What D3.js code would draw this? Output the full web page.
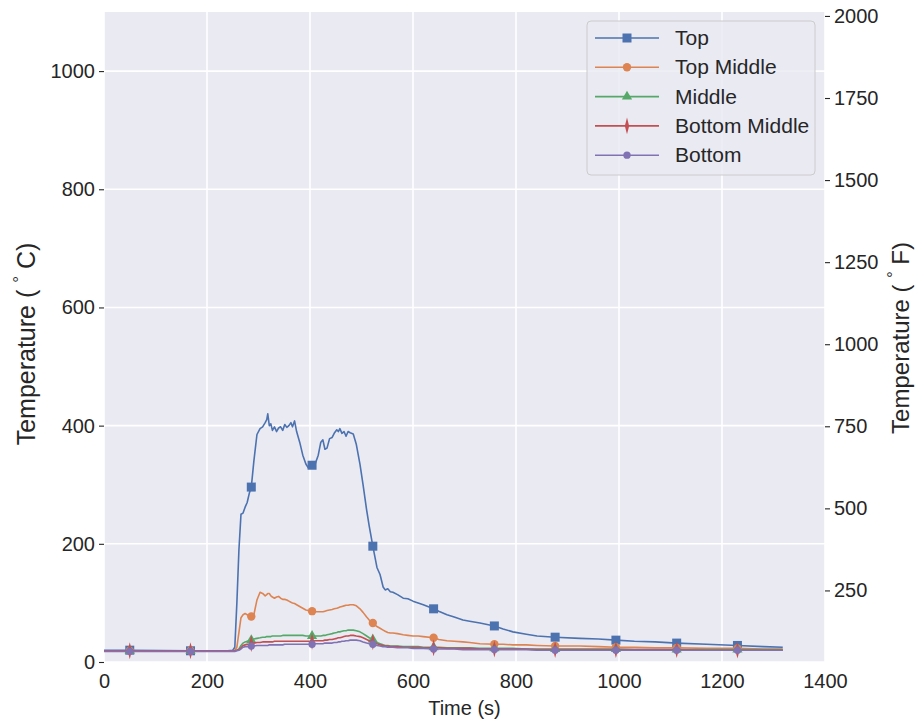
<!DOCTYPE html>
<html>
<head>
<meta charset="utf-8">
<script src="https://cdn.jsdelivr.net/npm/d3@7"></script>
<style>
  body { margin: 0; background: #fff; }
  text { font-family: "Liberation Sans", Arial, sans-serif; fill: #262626; }
</style>
</head>
<body>
<div class="canvas"></div>
<script>
// time in seconds, shared by every sensor
const time = [0, 50, 168, 240, 250, 254, 258, 262, 266, 270, 274, 278, 282, 286, 291, 297, 303, 308, 313, 316, 318, 321, 324, 327, 331, 335, 339, 343, 347, 351, 355, 359, 363, 366, 370, 374, 380, 386, 392, 397, 404, 410, 416, 421, 425, 429, 433, 438, 443, 447, 452, 455, 458, 462, 466, 470, 474, 478, 484, 490, 497, 503, 510, 515, 522, 530, 536, 542, 546, 551, 556, 561, 570, 581, 590, 600, 610, 620, 640, 650, 666, 680, 697, 710, 730, 758, 775, 794, 820, 841, 876, 924, 960, 994, 1030, 1070, 1112, 1170, 1230, 1280, 1318];

const top_ = [20, 20, 19, 19, 20, 25, 100, 190, 250, 252, 262, 270, 285, 296, 340, 385, 395, 398, 405, 410, 420, 400, 403, 392, 398, 390, 396, 398, 392, 402, 397, 400, 405, 398, 408, 390, 372, 350, 335, 328, 333, 335, 350, 372, 376, 360, 362, 378, 380, 387, 393, 390, 395, 387, 390, 382, 390, 388, 386, 368, 335, 300, 257, 230, 196, 160, 148, 127, 122, 124, 119, 118, 114, 108, 107, 103, 100, 97, 90, 86, 80, 76, 71, 69, 66, 61, 56, 51, 47, 44, 42, 40, 39, 37, 35, 34, 32, 30, 28, 26, 25];
const topMiddle = [19, 19, 19, 19, 19, 20, 25, 50, 75, 80, 82, 80, 78, 77, 80, 105, 118, 116, 112, 114, 116, 116, 112, 110, 108, 110, 111, 108, 106, 106, 105, 103, 101, 100, 99, 97, 94, 91, 88, 87, 86, 85, 85, 85, 85, 86, 87, 88, 89, 90, 91, 92, 93, 94, 95, 96, 96, 97, 97, 95, 90, 84, 76, 71, 66, 60, 57, 54, 52, 50, 49, 49, 48, 46, 45, 44, 44, 43, 41, 38, 36, 35, 34, 33, 31, 30, 30, 29, 29, 28, 27, 27, 26, 25, 25, 24, 24, 23, 23, 22, 22];
const middle = [19, 19, 19, 19, 19, 19, 20, 22, 28, 32, 34, 35, 36, 37, 39, 40, 41, 42, 42, 43, 43, 43, 43, 44, 44, 44, 44, 44, 45, 45, 45, 45, 45, 45, 45, 45, 45, 45, 44, 44, 44, 44, 44, 44, 45, 45, 46, 47, 48, 49, 50, 51, 51, 52, 53, 53, 54, 54, 54, 53, 51, 48, 44, 41, 38, 33, 31, 29, 28, 28, 27, 27, 27, 26, 26, 26, 26, 25, 25, 25, 24, 24, 24, 24, 23, 23, 23, 23, 22, 22, 22, 22, 22, 22, 21, 21, 21, 21, 21, 21, 21];
const bottomMiddle = [19, 19, 19, 19, 19, 19, 20, 21, 24, 28, 29, 30, 30, 31, 32, 33, 33, 34, 34, 34, 34, 34, 34, 34, 35, 35, 35, 35, 35, 35, 35, 35, 35, 35, 35, 35, 35, 35, 35, 35, 35, 36, 36, 36, 36, 37, 37, 38, 38, 39, 40, 41, 41, 42, 43, 44, 44, 45, 45, 44, 43, 41, 38, 36, 34, 31, 29, 28, 27, 27, 26, 26, 26, 25, 25, 25, 25, 24, 24, 24, 23, 23, 23, 23, 22, 22, 22, 22, 22, 21, 21, 21, 21, 21, 21, 21, 21, 20, 20, 20, 20];
const bottom = [18, 18, 18, 18, 18, 18, 19, 20, 22, 25, 26, 26, 27, 27, 27, 28, 28, 28, 28, 28, 28, 29, 29, 29, 29, 29, 29, 29, 29, 30, 30, 30, 30, 30, 30, 30, 30, 30, 30, 30, 30, 31, 31, 31, 31, 32, 32, 32, 32, 33, 33, 34, 34, 35, 35, 36, 36, 37, 37, 37, 36, 34, 32, 31, 30, 28, 27, 26, 26, 25, 25, 25, 24, 24, 24, 23, 23, 23, 22, 22, 22, 22, 21, 21, 21, 21, 21, 21, 21, 20, 20, 20, 20, 20, 20, 20, 20, 20, 20, 20, 20];

// times where markers sit (every ~118 s)
const markerTimes = [50, 168, 286, 404, 522, 640, 758, 876, 994, 1112, 1230];

const seriesNames = ["Top", "Top Middle", "Middle", "Bottom Middle", "Bottom"];
const seriesValues = [top_, topMiddle, middle, bottomMiddle, bottom];
const colors = ["#4C72B0", "#DD8452", "#55A868", "#C44E52", "#8172B3"];

const xTicks = [0, 200, 400, 600, 800, 1000, 1200, 1400];
const yTicksC = [0, 200, 400, 600, 800, 1000];
const yTicksF = [250, 500, 750, 1000, 1250, 1500, 1750, 2000];

const W = 916, H = 722;
const margin = {top: 12, right: 91, bottom: 60, left: 104};
const gw = W - margin.left - margin.right;
const gh = H - margin.top - margin.bottom;

const svg = d3.select(".canvas").append("svg")
  .attr("width", W)
  .attr("height", H);

const g = svg.append("g")
  .attr("transform", `translate(${margin.left}, ${margin.top})`);

const x = d3.scaleLinear().domain([0, 1400]).range([0, gw]);
const y = d3.scaleLinear().domain([0, 1100]).range([gh, 0]);
const yF = d3.scaleLinear().domain([32, 1100 * 9 / 5 + 32]).range([gh, 0]);

//background
g.append("rect")
  .attr("width", gw)
  .attr("height", gh)
  .attr("fill", "#EAEAF2");

//grid
g.append("g").selectAll("line").data(xTicks).join("line")
  .attr("x1", d => x(d)).attr("x2", d => x(d))
  .attr("y1", 0).attr("y2", gh)
  .attr("stroke", "#fff").attr("stroke-width", 1.6);
g.append("g").selectAll("line").data(yTicksC).join("line")
  .attr("x1", 0).attr("x2", gw)
  .attr("y1", d => y(d)).attr("y2", d => y(d))
  .attr("stroke", "#fff").attr("stroke-width", 1.6);

//axes
const fmt = d3.format("d");
const xAxis = g.append("g")
  .attr("transform", `translate(0, ${gh})`)
  .call(d3.axisBottom(x).tickValues(xTicks).tickFormat(fmt).tickSize(0).tickPadding(12));
const yAxis = g.append("g")
  .call(d3.axisLeft(y).tickValues(yTicksC).tickFormat(fmt).tickSize(5).tickPadding(4));
const yAxisR = g.append("g")
  .attr("transform", `translate(${gw}, 0)`)
  .call(d3.axisRight(yF).tickValues(yTicksF).tickFormat(fmt).tickSize(5).tickPadding(4));

[xAxis, yAxis, yAxisR].forEach(a => {
  a.select(".domain").remove();
  a.selectAll("text").style("font-size", "20px").attr("fill", "#262626")
    .style("font-family", "'Liberation Sans', Arial, sans-serif");
  a.selectAll("line").attr("stroke", "#262626").attr("stroke-width", 1.1);
});

//axis labels
svg.append("text")
  .attr("x", margin.left + gw / 2)
  .attr("y", 715)
  .attr("text-anchor", "middle")
  .style("font-size", "20px")
  .text("Time (s)");

function degLabel(xp, yc, unit, size) {
  const t = svg.append("text")
    .attr("transform", `translate(${xp}, ${yc}) rotate(-90)`)
    .attr("text-anchor", "middle")
    .style("font-size", size + "px");
  t.append("tspan").text("Temperature ( ");
  t.append("tspan").attr("dy", -10).style("font-size", (size - 8) + "px").text("°");
  t.append("tspan").attr("dy", 10).text(" " + unit + ")");
}
degLabel(35, 344, "C", 25);
degLabel(909, 338, "F", 24);

//lines
const line = d3.line()
  .x((d, i) => x(time[i]))
  .y(d => y(d));

const symbols = [
  d3.symbol().type(d3.symbolSquare).size(81),
  d3.symbol().type(d3.symbolCircle).size(55),
  d3.symbol().type(d3.symbolTriangle).size(45),
  d3.symbol().type(d3.symbolDiamond).size(45),
  d3.symbol().type(d3.symbolCircle).size(42)
];
const symScale = [[1, 1], [1, 1], [1, 1], [0.6, 1.35], [1, 1]];

seriesValues.forEach((vals, s) => {
  g.append("path")
    .datum(vals)
    .attr("d", line)
    .attr("fill", "none")
    .attr("stroke", colors[s])
    .attr("stroke-width", 1.6)
    .attr("stroke-linejoin", "round");

  const pts = time.map((t, i) => ({t, v: vals[i]})).filter(p => markerTimes.includes(p.t));
  g.append("g").selectAll("path").data(pts).join("path")
    .attr("d", symbols[s])
    .attr("transform", p => `translate(${x(p.t)}, ${y(p.v)}) scale(${symScale[s][0]}, ${symScale[s][1]})`)
    .attr("fill", colors[s]);
});

//legend
const legend = svg.append("g").attr("transform", "translate(587, 21)");
legend.append("rect")
  .attr("width", 228).attr("height", 154)
  .attr("rx", 4)
  .attr("fill", "#EAEAF2").attr("fill-opacity", 0.8)
  .attr("stroke", "#CCCCCC").attr("stroke-width", 1);

seriesNames.forEach((name, s) => {
  const ly = 17 + s * 29.3;
  legend.append("line")
    .attr("x1", 8).attr("x2", 72).attr("y1", ly).attr("y2", ly)
    .attr("stroke", colors[s]).attr("stroke-width", 1.6);
  legend.append("path")
    .attr("d", symbols[s])
    .attr("transform", `translate(40, ${ly}) scale(${symScale[s][0]}, ${symScale[s][1]})`)
    .attr("fill", colors[s]);
  legend.append("text")
    .attr("x", 88).attr("y", ly + 7)
    .style("font-size", "21px")
    .text(name);
});
</script>
</body>
</html>
